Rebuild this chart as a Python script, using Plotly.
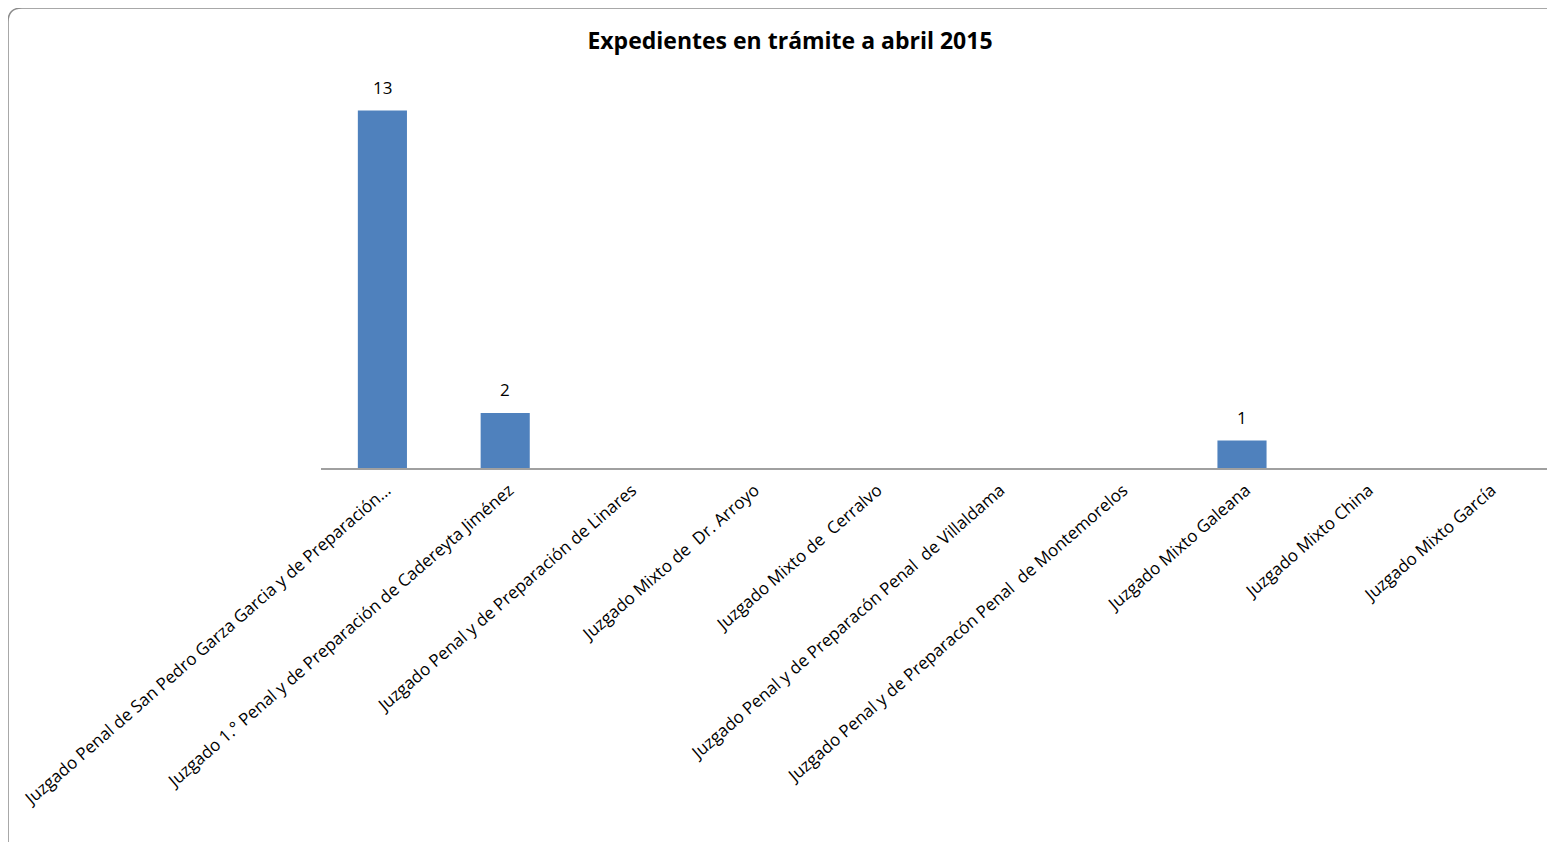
import plotly.graph_objects as go

categories = [
    "Juzgado Penal de San Pedro Garza Garcia y de Preparación...",
    "Juzgado 1.° Penal y de Preparación de Cadereyta Jiménez",
    "Juzgado Penal y de Preparación de Linares",
    "Juzgado Mixto de  Dr. Arroyo",
    "Juzgado Mixto de  Cerralvo",
    "Juzgado Penal y de Preparacón Penal  de Villaldama",
    "Juzgado Penal y de Preparacón Penal  de Montemorelos",
    "Juzgado Mixto Galeana",
    "Juzgado Mixto China",
    "Juzgado Mixto García",
]
values = [13, 2, 0, 0, 0, 0, 0, 1, 0, 0]
title_text = "Expedientes en trámite a abril 2015"

OFF = 8  # page body margin
W, H = 1555 - OFF, 842 - OFF
ML = 321 - OFF
MT = 83 - OFF
MR = W - (1549 - OFF)
MB = H - (468 - OFF)
PW, PH = W - ML - MR, H - MT - MB

def px(x):
    return (x - OFF - ML) / PW

def py(y):
    return 1 - (y - OFF - MT) / PH

FONT = "Open Sans, Lato, sans-serif"

fig = go.Figure(go.Bar(
    x=categories, y=values,
    marker=dict(color="#4F81BD", line=dict(width=0)),
    cliponaxis=False, hoverinfo="x+y",
))

annotations = [
    dict(x=c, y=v, text=str(v), showarrow=False, xref="x", yref="y",
         yanchor="bottom", yshift=10,
         font=dict(family=FONT, size=17, color="#000000"))
    for c, v in zip(categories, values) if v
]

# rounded border (right and bottom edges fall outside the picture, as in the reference)
x0, y0, x1, y1, r = 8, 8, 1600, 900, 14
path = (f"M {px(x0+r)},{py(y0)} L {px(x1-r)},{py(y0)} "
        f"Q {px(x1)},{py(y0)} {px(x1)},{py(y0+r)} "
        f"L {px(x1)},{py(y1-r)} Q {px(x1)},{py(y1)} {px(x1-r)},{py(y1)} "
        f"L {px(x0+r)},{py(y1)} Q {px(x0)},{py(y1)} {px(x0)},{py(y1-r)} "
        f"L {px(x0)},{py(y0+r)} Q {px(x0)},{py(y0)} {px(x0+r)},{py(y0)} Z")

fig.update_layout(
    width=W, height=H,
    margin=dict(l=ML, r=MR, t=MT, b=MB, autoexpand=False),
    paper_bgcolor="white", plot_bgcolor="white",
    bargap=0.6,
    showlegend=False,
    title=dict(text=f"<b>{title_text}</b>", x=(790 - OFF) / W, xanchor="center",
               y=1 - (41 - OFF) / H, yanchor="middle",
               font=dict(family=FONT, size=23, color="#000000")),
    xaxis=dict(showline=True, linecolor="#A0A0A0", linewidth=1.5, ticks="",
               tickangle=-41, showgrid=False, zeroline=False,
               ticklabelshift=4, ticklabelstandoff=4,
               tickfont=dict(family=FONT, size=17, color="#000000")),
    yaxis=dict(range=[0, 14], visible=False, showgrid=False, zeroline=False),
    annotations=annotations,
    shapes=[dict(type="path", path=path, xref="paper", yref="paper",
                 line=dict(color="#8C8C8C", width=1.5), fillcolor="rgba(0,0,0,0)", layer="below")],
)

fig.write_html("out.html")
